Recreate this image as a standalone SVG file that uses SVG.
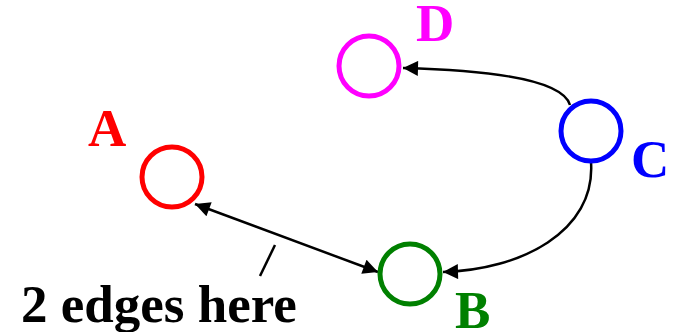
<svg xmlns="http://www.w3.org/2000/svg" width="673" height="332" viewBox="0 0 673 332">
<defs>
<style>
.node{fill:none;stroke-width:5}
.edge{fill:none;stroke:#000;stroke-width:2.5}
.lbl{font-family:"Liberation Serif","Times New Roman",serif;font-weight:bold;font-size:53px}
</style>
<marker id="ah" viewBox="0 0 10 10" refX="10" refY="5" markerWidth="6.5" markerHeight="6" orient="auto-start-reverse" markerUnits="strokeWidth">
<path d="M0,0 L10,5 L0,10 Z" fill="#000"/>
</marker>
</defs>
<rect width="673" height="332" fill="#fff"/>
<g id="connectors">
<line class="edge" x1="195" y1="204" x2="378" y2="272" marker-start="url(#ah)" marker-end="url(#ah)"/>
<path class="edge" d="M570,105 Q560,72 403,68" marker-end="url(#ah)"/>
<path class="edge" d="M591,162 C596,232 520,270 443,272" marker-end="url(#ah)"/>
<line class="edge" x1="275" y1="245" x2="260" y2="276" stroke-width="2"/>
</g>
<g id="A"><circle class="node" cx="172" cy="177" r="30" stroke="#ff0000"/><text class="lbl" x="88" y="146" fill="#ff0000">A</text></g>
<g id="B"><circle class="node" cx="410" cy="274" r="30" stroke="#008000"/><text class="lbl" x="455" y="328" fill="#008000">B</text></g>
<g id="C"><circle class="node" cx="591" cy="131" r="30" stroke="#0000ff"/><text class="lbl" x="631" y="177" fill="#0000ff">C</text></g>
<g id="D"><circle class="node" cx="369" cy="66" r="30" stroke="#ff00ff"/><text class="lbl" x="416" y="41" fill="#ff00ff">D</text></g>
<text class="lbl" x="21" y="322" fill="#000">2 edges here</text>
</svg>
